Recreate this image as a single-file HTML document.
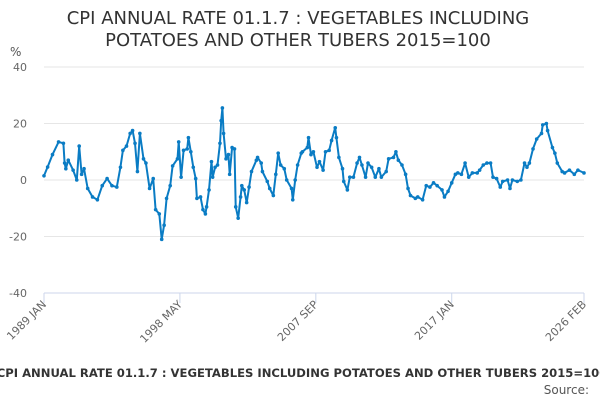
<!DOCTYPE html>
<html><head><meta charset="utf-8"><style>
body{margin:0;width:600px;height:400px;background:#fff;overflow:hidden;font-family:"DejaVu Sans","Liberation Sans",sans-serif}
svg{position:absolute;left:0;top:0}
</style></head><body>
<svg width="600" height="400">
<text x="298" y="24" text-anchor="middle" font-size="18" fill="#333">CPI ANNUAL RATE 01.1.7 : VEGETABLES INCLUDING</text>
<text x="298" y="46" text-anchor="middle" font-size="18" fill="#333">POTATOES AND OTHER TUBERS 2015=100</text>
<text x="10" y="56" font-size="12" fill="#555">%</text>
<g id="grid"></g><g id="xaxis"></g>
<path id="line" fill="none" stroke="#0a7cc4" stroke-width="2" stroke-linejoin="round"/>
<g id="pts"></g>
<text x="302" y="377" text-anchor="middle" font-size="11.6" font-weight="bold" fill="#333">CPI ANNUAL RATE 01.1.7 : VEGETABLES INCLUDING POTATOES AND OTHER TUBERS 2015=100</text>
<text x="589" y="394" text-anchor="end" font-size="12" fill="#555">Source:</text>
</svg>
<script>
const months=[0,3,7,12,16,17,18,20,24,27,29,31,33,36,40,44,48,52,56,60,63,65,68,71,73,75,77,79,82,84,87,90,92,95,97,99,101,104,106,110,111,113,115,118,119,121,123,125,126,129,131,133,134,136,138,139,141,143,145,146,147,148,150,152,153,155,157,158,160,162,163,165,167,169,171,175,176,179,180,184,186,189,191,193,195,198,200,204,205,207,209,212,213,217,218,220,222,225,227,230,232,235,237,240,241,243,246,247,250,252,255,258,260,262,265,267,270,273,276,278,282,284,288,290,292,295,298,300,302,306,308,312,315,318,321,324,328,330,333,336,339,341,344,347,350,353,357,359,362,365,368,370,373,376,378,382,384,386,390,393,396,398,400,403,406,410,411,414,415,419,421,423,427,429,433,437,440,445];
const values=[1.5,4.6,9,13.5,13,6,4,7,3.5,0,12,2,4,-3,-6,-7,-2,0.5,-2,-2.5,4.5,10.5,12,16.5,17.5,13,3,16.5,7.5,6,-3,0.5,-10.5,-12,-21,-16,-6.5,-2,5,7.5,13.5,1,10.5,11,15,10,4.5,0.5,-6.5,-6,-10.5,-12,-9.5,-3.5,6.5,1,4.5,5.3,13,21,25.5,16.5,7.5,9,2,11.5,11,-9.5,-13.5,-6,-2,-3.5,-8,-2.5,3,7,8,6,3,-0.5,-3,-5.5,2,9.5,5.3,4,0,-3,-7,0,5.3,9.5,10,11.5,15,9,10,4.5,6.5,3.5,10,10.5,14,18.5,15,8,4,-0.5,-3.5,1,1,6,8,5.3,1,6,4.5,1,4,1,3,7.5,8,10,7,5.3,2,-3,-5.5,-6.5,-6,-7,-2,-2.5,-1,-2,-3.5,-6,-4,-1,2,2.5,2,6,1,2.5,2.5,3.5,5.3,6,6,1,0.5,-2.5,-0.5,0,-3,0,-0.5,0,6,4.5,6,11,14.5,16.5,19.5,20,17.5,11.5,9.5,6,3,2.5,3.5,2,3.5,2.5,3.5];
const yTicks=[40,20,0,-20,-40];
const xTickMonths=[0,112,224,336,445];
const xTickLabels=["1989 JAN","1998 MAY","2007 SEP","2017 JAN","2026 FEB"];
const NS="http://www.w3.org/2000/svg";
const X0=44,X1=584,Y0=67,Y1=293,MMAX=445;
const xs=m=>X0+(X1-X0)*m/MMAX;
const ys=v=>Y0+(Y1-Y0)*(40-v)/80;
function mk(t,a,p){const e=document.createElementNS(NS,t);for(const k in a)e.setAttribute(k,a[k]);p.appendChild(e);return e;}
const grid=document.getElementById('grid');
yTicks.forEach(v=>{
 const l=mk('line',{x1:X0,x2:X1,y1:ys(v),y2:ys(v),stroke:v===-40?'#ccd6eb':'#e6e6e6','stroke-width':1},grid);
 
 
 const t=mk('text',{x:27,y:ys(v)+4,'text-anchor':'end','font-size':11,fill:'#666'},grid);
 t.textContent=v;
 
 
});
const xa=document.getElementById('xaxis');
xTickMonths.forEach((m,i)=>{
 const x=xs(m);
 const tk=mk('line',{x1:x,x2:x,y1:Y1,y2:Y1+10,stroke:'#ccd6eb'},xa);
 
 
 const t=mk('text',{x:x+3,y:Y1+12,'text-anchor':'end','font-size':11,fill:'#666',transform:`rotate(-45 ${x+3} ${Y1+12})`},xa);
 t.textContent=xTickLabels[i];
 
 
});
let d='';
months.forEach((m,i)=>{d+=(i?'L':'M')+xs(m).toFixed(1)+' '+ys(values[i]).toFixed(1);});
document.getElementById('line').setAttribute('d',d);
const pts=document.getElementById('pts');
months.forEach((m,i)=>{
 const c=mk('circle',{cx:xs(m),cy:ys(values[i]),r:1.8,fill:'#0a7cc4'},pts);
 
 
});
</script>
</body></html>
